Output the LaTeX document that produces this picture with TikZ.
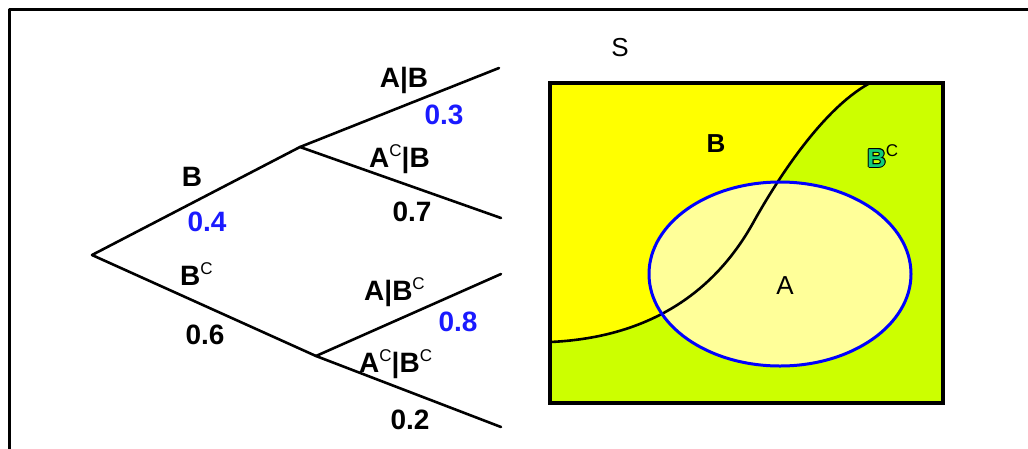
\documentclass[tikz,border=0pt]{standalone}
\usepackage{fontspec}
\setmainfont{Liberation Sans}
\definecolor{byel}{HTML}{FFFF00}
\definecolor{bcgr}{HTML}{CCFF00}
\definecolor{apale}{HTML}{FFFF99}
\definecolor{nblue}{HTML}{1A1AFF}
\definecolor{greenB}{HTML}{11CC77}
\newcommand\supC{\raisebox{11pt}{\fontsize{17}{17}\selectfont\mdseries C}}
\newcommand\olB{\makebox[0pt][l]{\kern-1pt B}\makebox[0pt][l]{\kern1pt B}\makebox[0pt][l]{\raisebox{1pt}{B}}\makebox[0pt][l]{\raisebox{-1pt}{B}}\makebox[0pt][l]{\kern-0.7pt\raisebox{0.7pt}{B}}\makebox[0pt][l]{\kern0.7pt\raisebox{-0.7pt}{B}}\makebox[0pt][l]{\kern0.7pt\raisebox{0.7pt}{B}}\makebox[0pt][l]{\kern-0.7pt\raisebox{-0.7pt}{B}}\textcolor{greenB}{B}}
\begin{document}
\begin{tikzpicture}[x=1pt,y=-1pt,line join=round,line cap=round,
  branch/.style={line width=2.6pt},
  lbl/.style={font=\fontsize{28}{30}\selectfont\bfseries,inner sep=0pt,text=black},
  pblue/.style={lbl,text=nblue},
  vlbl/.style={font=\fontsize{26}{30}\selectfont,inner sep=0pt,text=black}]
\useasboundingbox (0,0) rectangle (1028,448);
\fill[white] (0,0) rectangle (1028,448);
% outer frame
\draw[line width=3pt,line cap=butt] (9,450) -- (9,9) -- (1030,9);
% tree
\coordinate (root) at (92,255);
\coordinate (nB) at (300,147);
\coordinate (nBc) at (316,356);
\coordinate (e1) at (499,68);
\coordinate (e2) at (501,218);
\coordinate (e3) at (501,274);
\coordinate (e4) at (501,427);
\draw[branch] (root) -- (nB);
\draw[branch] (root) -- (nBc);
\draw[branch] (nB) -- (e1);
\draw[branch] (nB) -- (e2);
\draw[branch] (nBc) -- (e3);
\draw[branch] (nBc) -- (e4);
% tree labels
\node[lbl] (lB) at (192,177) {B};
\node[pblue] (p04) at (207,222) {0.4};
\node[lbl,anchor=base west] (lBc) at (180,285) {B\supC};
\node[lbl] (p06) at (205,335) {0.6};
\node[lbl] (lAB) at (404,80) {A|B};
\node[pblue] (p03) at (444,115) {0.3};
\node[lbl,anchor=base west] (lAcB) at (369,167) {A\supC|B};
\node[lbl] (p07) at (412,212) {0.7};
\node[lbl,anchor=base west] (lABc) at (364,300) {A|B\supC};
\node[pblue] (p08) at (458,322) {0.8};
\node[lbl,anchor=base west] (lAcBc) at (359,372) {A\supC|B\supC};
\node[lbl] (p02) at (410,420) {0.2};
% Venn diagram
\node[vlbl] (S) at (620,48) {S};
\fill[bcgr] (550,83) rectangle (943,403);
\fill[byel] (550,83) -- (550,342) .. controls (640,338) and (710,300) .. (753,223)
   .. controls (773,187) and (820,110) .. (870,83) -- cycle;
\fill[apale] (780,274) ellipse [x radius=131, y radius=92];
\draw[line width=2.6pt,line cap=butt] (550,342) .. controls (640,338) and (710,300) .. (753,223)
   .. controls (773,187) and (820,110) .. (870,83);
\draw[line width=3pt,blue] (780,274) ellipse [x radius=131, y radius=92];
\draw[line width=3.5pt,line cap=butt,line join=miter] (550,83) rectangle (943,403);
\node[lbl,font=\fontsize{26}{30}\selectfont\bfseries] (vB) at (716,144) {B};
\node[vlbl,anchor=base west,font=\fontsize{26}{30}\selectfont\bfseries] (vBc) at (867,167) {\olB\supC};
\node[vlbl] (vA) at (785,286) {A};
\end{tikzpicture}
\end{document}
